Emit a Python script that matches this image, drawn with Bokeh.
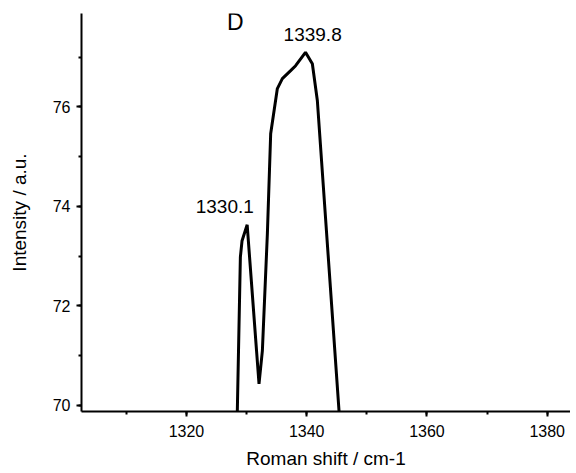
from bokeh.plotting import figure
from bokeh.models import Range1d, SingleIntervalTicker, Label
from bokeh.embed import file_html
from bokeh.resources import INLINE

# Raman spectrum (panel D)
shift = [1328.4, 1328.97, 1329.25, 1330.1, 1332.07, 1332.63, 1333.46, 1334.01,
         1335.12, 1335.95, 1337.33, 1338.16, 1339.8, 1340.94, 1341.77, 1345.6]
intensity = [69.5, 72.98, 73.31, 73.63, 70.43, 71.10, 73.45, 75.46,
             76.37, 76.57, 76.73, 76.83, 77.10, 76.87, 76.13, 69.5]

peak_labels = ["1330.1", "1339.8"]
panel_label = "D"

FONT = "Liberation Sans"

p = figure(width=570, height=472, output_backend="svg", toolbar_location=None,
           x_range=Range1d(1302.55, 1383.87), y_range=Range1d(69.875, 77.88),
           min_border_left=81, min_border_right=0, min_border_top=13,
           min_border_bottom=61)
p.outline_line_color = None
p.grid.grid_line_color = None
p.background_fill_color = "white"

p.line(shift, intensity, line_color="black", line_width=3)

p.xaxis.ticker = SingleIntervalTicker(interval=20, num_minor_ticks=2)
p.yaxis.ticker = SingleIntervalTicker(interval=2, num_minor_ticks=2)

for ax in (p.xaxis[0], p.yaxis[0]):
    ax.axis_line_width = 2
    ax.axis_line_color = "black"
    ax.major_tick_line_width = 2
    ax.minor_tick_line_width = 2
    ax.major_tick_in = 0
    ax.major_tick_out = 5
    ax.minor_tick_in = 0
    ax.minor_tick_out = 3
    ax.major_label_text_font = FONT
    ax.major_label_text_font_size = "16px"
    ax.major_label_text_color = "black"
    ax.axis_label_text_font = FONT
    ax.axis_label_text_font_size = "19px"
    ax.axis_label_text_font_style = "normal"
    ax.axis_label_text_color = "black"

p.xaxis.axis_label = "Roman shift / cm-1"
p.yaxis.axis_label = "Intensity / a.u."
p.xaxis.major_label_standoff = 8
p.xaxis.axis_label_standoff = 8
p.yaxis.major_label_standoff = 6
p.yaxis.axis_label_standoff = 20

p.add_layout(Label(x=1328.14, y=77.71, text=panel_label, text_font=FONT,
                   text_font_size="23px", text_align="center",
                   text_baseline="middle", text_color="black"))
p.add_layout(Label(x=1326.37, y=74.0, text=peak_labels[0], text_font=FONT,
                   text_font_size="19px", text_align="center",
                   text_baseline="middle", text_color="black"))
p.add_layout(Label(x=1340.99, y=77.46, text=peak_labels[1], text_font=FONT,
                   text_font_size="19px", text_align="center",
                   text_baseline="middle", text_color="black"))

open("out.html", "w").write(file_html(p, INLINE))
